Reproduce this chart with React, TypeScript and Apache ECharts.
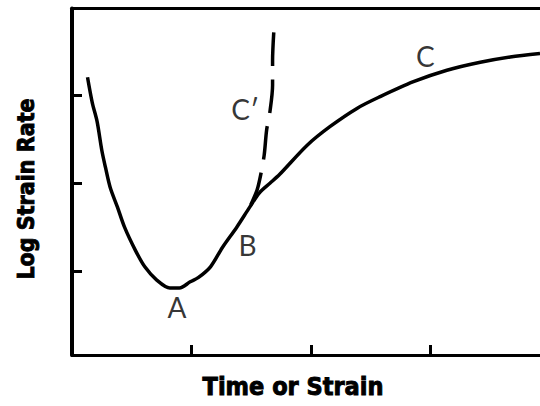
import React, { useEffect, useRef } from "react";
import * as echarts from "echarts";

// Main creep curve (x: time/strain units, y: log strain rate units)
const mainX = [0.13, 0.17, 0.21, 0.25, 0.28, 0.32, 0.38, 0.44, 0.53, 0.61, 0.71, 0.82, 0.90, 0.99, 1.06, 1.16, 1.26, 1.38, 1.49, 1.57, 1.66, 1.74, 1.97, 2.16, 2.39, 2.58, 2.86, 3.14, 3.42, 3.67, 3.92];
const mainY = [3.20, 2.91, 2.70, 2.37, 2.18, 1.95, 1.73, 1.50, 1.24, 1.05, 0.90, 0.81, 0.81, 0.88, 0.93, 1.05, 1.27, 1.50, 1.73, 1.89, 2.00, 2.10, 2.43, 2.64, 2.85, 2.98, 3.15, 3.28, 3.37, 3.43, 3.47];

// C' branch (listed top to bottom)
const branchX = [1.69, 1.68, 1.68, 1.66, 1.63, 1.61, 1.58, 1.55, 1.49];
const branchY = [3.71, 3.39, 3.11, 2.83, 2.60, 2.32, 2.09, 1.92, 1.73];

// Point labels
const labelNames = ["A", "B", "C", "C\u2032"];
const labelX = [0.88, 1.47, 2.96, 1.45];
const labelY = [0.59, 1.30, 3.44, 2.84];

const tickValues = [1, 2, 3];
const xTitle = "Time or Strain";
const yTitle = "Log Strain Rate";

export default function App() {
  const ref = useRef<HTMLDivElement>(null);
  useEffect(() => {
    if (!ref.current) return;
    const chart = echarts.init(ref.current, null, { renderer: "svg" });
    const fam = '"DejaVu Sans Condensed", "Liberation Sans Narrow", sans-serif';
    chart.setOption({
      animation: false,
      backgroundColor: "#fff",
      grid: { left: 72, right: 0, top: 8.5, bottom: 51 },
      xAxis: [
        {
          type: "value",
          min: 0,
          max: 3.92,
          axisLine: { show: true, onZero: false, lineStyle: { color: "#000", width: 3 } },
          axisTick: { show: true, inside: true, length: 10, customValues: tickValues, lineStyle: { color: "#000", width: 3 } },
          axisLabel: { show: false },
          splitLine: { show: false },
        },
        {
          type: "value",
          position: "top",
          min: 0,
          max: 3.92,
          axisLine: { show: true, onZero: false, lineStyle: { color: "#000", width: 3 } },
          axisTick: { show: false },
          axisLabel: { show: false },
          splitLine: { show: false },
        },
      ],
      yAxis: {
        type: "value",
        min: 0.05,
        max: 3.98,
        axisLine: { show: true, onZero: false, lineStyle: { color: "#000", width: 4 } },
        axisTick: { show: true, inside: true, length: 10, customValues: tickValues, lineStyle: { color: "#000", width: 3 } },
        axisLabel: { show: false },
        splitLine: { show: false },
      },
      graphic: [
        {
          type: "text",
          x: 293,
          y: 386,
          style: { text: xTitle, font: "bold 25px " + fam, fill: "#000", stroke: "#000", lineWidth: 0.9, textAlign: "center", textVerticalAlign: "middle" },
        },
        {
          type: "text",
          x: 26,
          y: 189,
          rotation: Math.PI / 2,
          style: { text: yTitle, font: "bold 23px " + fam, fill: "#000", stroke: "#000", lineWidth: 0.9, textAlign: "center", textVerticalAlign: "middle" },
        },
      ],
      series: [
        {
          type: "line",
          data: mainX.map((x, i) => [x, mainY[i]]),
          showSymbol: false,
          smooth: 0.3,
          lineStyle: { color: "#000", width: 3.5 },
        },
        {
          type: "line",
          data: branchX.map((x, i) => [x, branchY[i]]),
          showSymbol: false,
          smooth: 0.3,
          lineStyle: { color: "#000", width: 3.5, type: [34, 13] },
        },
        {
          type: "scatter",
          symbolSize: 0,
          data: labelNames.map((n, i) => ({ name: n, value: [labelX[i], labelY[i]] })),
          label: {
            show: true,
            position: "inside",
            formatter: (p: any) => p.name,
            color: "#000",
            fontSize: 28,
            fontFamily: "Lato, sans-serif",
            fontWeight: "normal",
          },
        },
      ],
    });
    return () => chart.dispose();
  }, []);
  return <div ref={ref} style={{ position: "absolute", left: 0, top: 0, width: 540, height: 406 }} />;
}
